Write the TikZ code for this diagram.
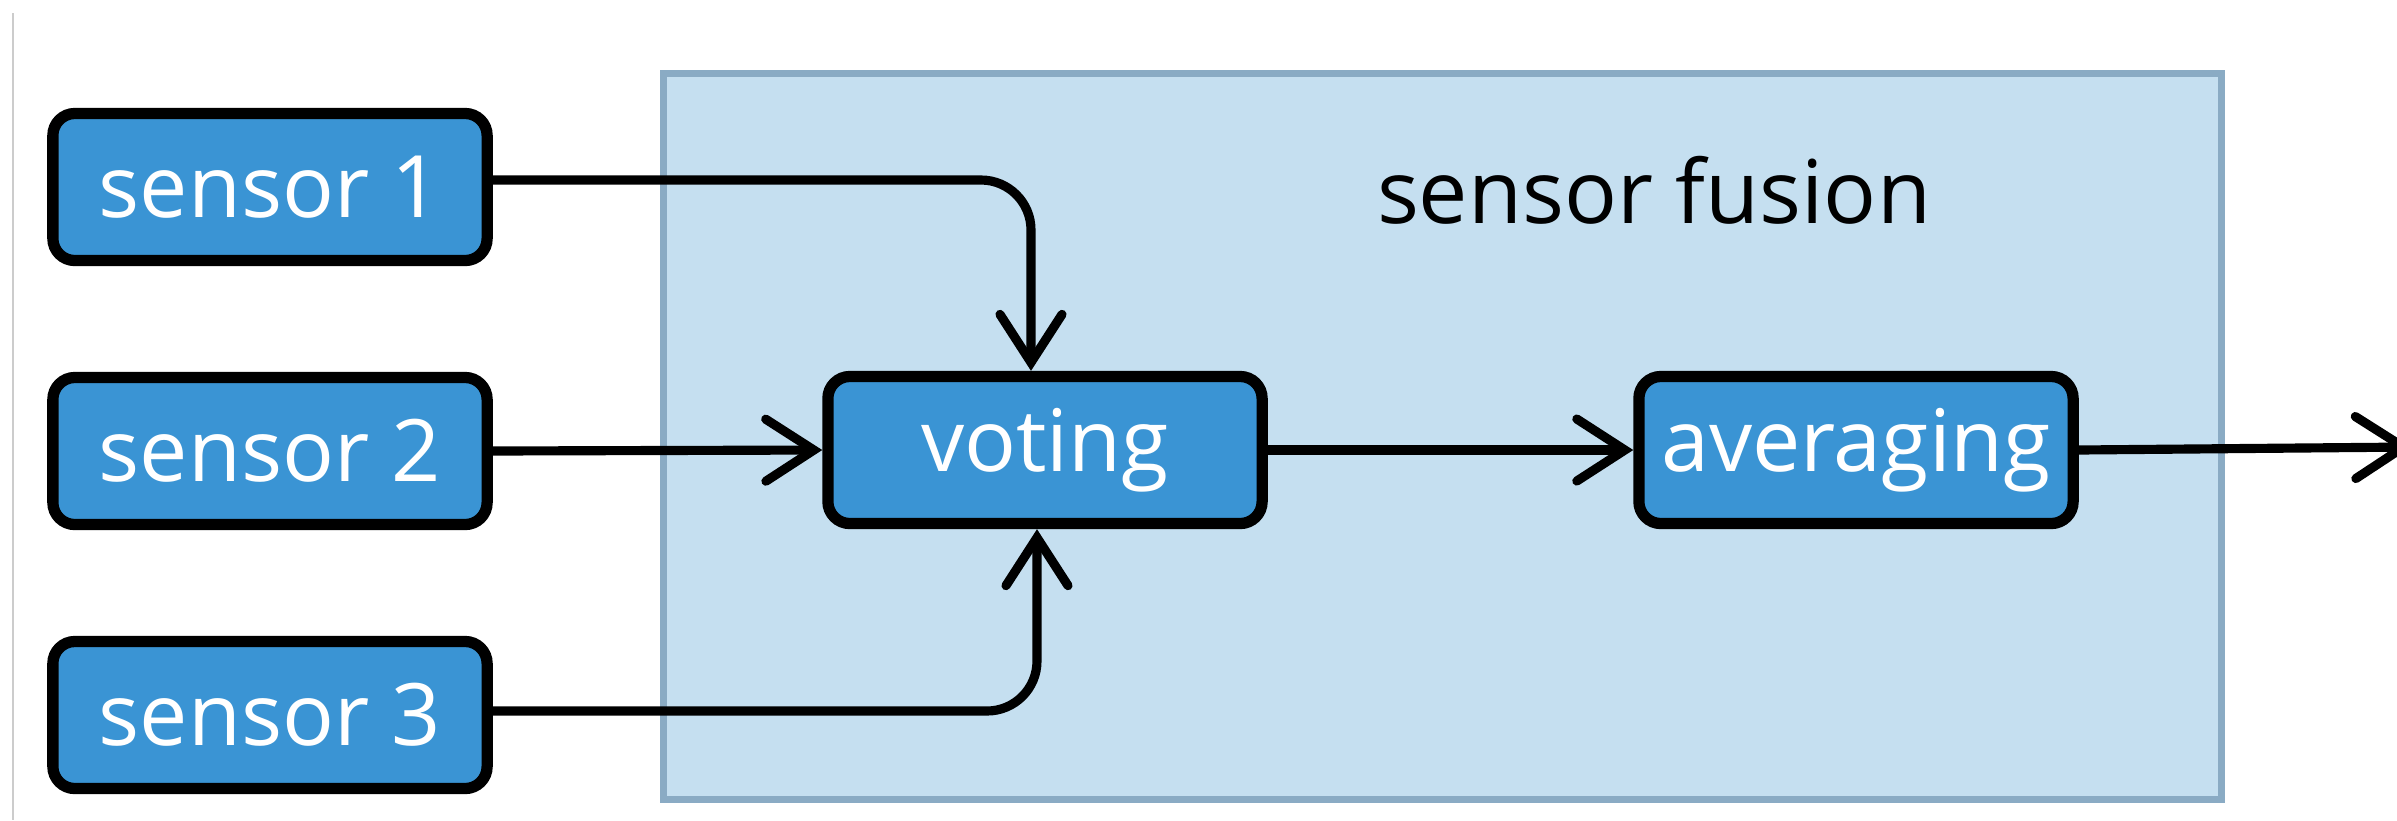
\documentclass[tikz,border=0pt]{standalone}
\usepackage{fontspec}
\setmainfont{Open Sans}
\usetikzlibrary{arrows.meta}
\definecolor{boxblue}{HTML}{3A94D4}
\definecolor{fusfill}{HTML}{C5DFF0}
\definecolor{fusdraw}{HTML}{8AABC4}
\tikzset{
  blk/.style={draw=black, fill=boxblue, line width=3.2pt, rounded corners=0.22cm,
    minimum width=4.34cm, minimum height=1.47cm, text=white, inner sep=0pt,
    font=\fontsize{24.5}{28}\selectfont},
  conn/.style={draw=black, line width=2.6pt, line cap=round, rounded corners=0.5cm,
    -{Straight Barb[length=4.8mm,width=6.2mm,line width=2.6pt,line cap=round]}},
}
\begin{document}
\begin{tikzpicture}[x=0.01cm,y=-0.01cm]
\useasboundingbox (0,0) rectangle (2397,820);
\draw[black!20, line width=0.4pt] (13,13) -- (13,820);
\node[draw=fusdraw, fill=fusfill, line width=2pt, minimum width=15.57cm, minimum height=7.26cm,
  anchor=north west] (fus) at (660,70) {};
\node[font=\fontsize{25}{30}\selectfont, text=black] (lbl) at (1654,190) {sensor fusion};
\node[blk] (s1) at (270,187) {sensor 1};
\node[blk] (s2) at (270,451) {sensor 2};
\node[blk] (s3) at (270,715) {sensor 3};
\node[blk] (v) at (1045,450) {voting};
\node[blk] (a) at (1856,450) {averaging};
\coordinate (out) at (2412,447);
\draw[conn] ([yshift=0.07cm]s1.east) -| ([xshift=-0.14cm]v.north);
\draw[conn] (s2.east) -- (v.west);
\draw[conn] ([yshift=0.04cm]s3.east) -| ([xshift=-0.08cm]v.south);
\draw[conn] (v.east) -- (a.west);
\draw[conn] (a.east) -- (out);
\end{tikzpicture}
\end{document}
